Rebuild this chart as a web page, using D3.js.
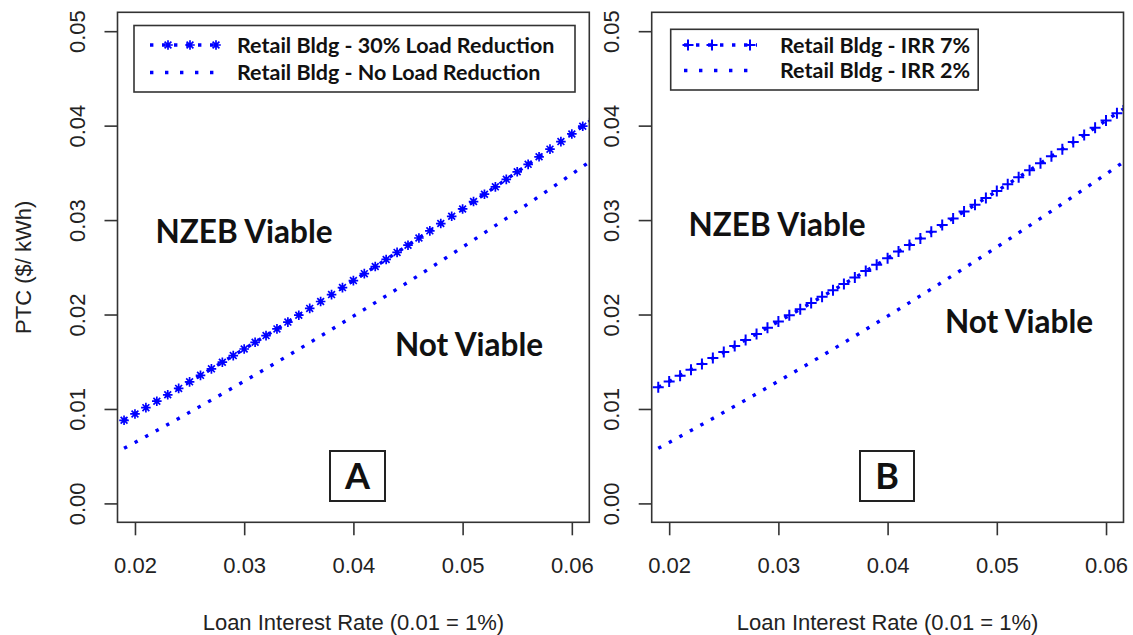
<!DOCTYPE html>
<html>
<head>
<meta charset="utf-8">
<script src="https://cdn.jsdelivr.net/npm/d3@7"></script>
<style>
  body { margin: 0; background: #fff; }
  svg { display: block; }
</style>
</head>
<body>
<div class="ptc-chart"></div>
<script>
// loan interest rate for each plotted point
const loanRate = [
  0.019, 0.020, 0.021, 0.022, 0.023, 0.024, 0.025, 0.026, 0.027, 0.028, 0.029,
  0.030, 0.031, 0.032, 0.033, 0.034, 0.035, 0.036, 0.037, 0.038, 0.039, 0.040,
  0.041, 0.042, 0.043, 0.044, 0.045, 0.046, 0.047, 0.048, 0.049, 0.050, 0.051,
  0.052, 0.053, 0.054, 0.055, 0.056, 0.057, 0.058, 0.059, 0.060, 0.061, 0.062,
];

// PTC ($/kWh)
const ptcLoad30 = [
  0.00880, 0.00947, 0.01014, 0.01082, 0.01150, 0.01218, 0.01287, 0.01356, 0.01425, 0.01495, 0.01565,
  0.01635, 0.01706, 0.01777, 0.01848, 0.01920, 0.01993, 0.02065, 0.02138, 0.02211, 0.02285, 0.02359,
  0.02433, 0.02508, 0.02583, 0.02658, 0.02734, 0.02810, 0.02886, 0.02963, 0.03040, 0.03118, 0.03196,
  0.03274, 0.03352, 0.03431, 0.03511, 0.03590, 0.03670, 0.03751, 0.03831, 0.03912, 0.03994, 0.04075,
];
// no load reduction and IRR 2% are the same base case
const ptcBase = [
  0.00584, 0.00646, 0.00709, 0.00772, 0.00836, 0.00900, 0.00965, 0.01030, 0.01095, 0.01161, 0.01227,
  0.01294, 0.01361, 0.01428, 0.01496, 0.01564, 0.01633, 0.01702, 0.01772, 0.01842, 0.01912, 0.01983,
  0.02054, 0.02126, 0.02198, 0.02270, 0.02343, 0.02416, 0.02490, 0.02564, 0.02639, 0.02714, 0.02789,
  0.02865, 0.02942, 0.03018, 0.03095, 0.03173, 0.03251, 0.03329, 0.03408, 0.03487, 0.03567, 0.03647,
];
const ptcIrr7 = [
  0.01230, 0.01291, 0.01353, 0.01415, 0.01477, 0.01540, 0.01603, 0.01667, 0.01731, 0.01795, 0.01860,
  0.01925, 0.01991, 0.02056, 0.02123, 0.02189, 0.02256, 0.02324, 0.02391, 0.02460, 0.02528, 0.02597,
  0.02666, 0.02736, 0.02806, 0.02876, 0.02947, 0.03018, 0.03090, 0.03162, 0.03234, 0.03307, 0.03380,
  0.03453, 0.03527, 0.03601, 0.03676, 0.03751, 0.03826, 0.03902, 0.03978, 0.04054, 0.04131, 0.04209,
];

const xTicks = [0.02, 0.03, 0.04, 0.05, 0.06];
const yTicks = [0.00, 0.01, 0.02, 0.03, 0.04, 0.05];
const xLimits = [0.02, 0.06];
const yLimits = [0.0, 0.05];

const xTitle = "Loan Interest Rate (0.01 = 1%)";
const yTitle = "PTC ($/ kWh)";

const panels = [
  {
    letter: "A",
    left: 117.5,
    series: [
      { name: "Retail Bldg - 30% Load Reduction", values: ptcLoad30, marker: "asterisk" },
      { name: "Retail Bldg - No Load Reduction", values: ptcBase, marker: null },
    ],
    legend: { x: 134, y: 25.5, w: 441, h: 66.5, rowY: [45, 72.5], textX: 237, lineX: [150, 220], markX: [168, 190, 216] },
    viable: [244, 243],
    notViable: [469, 356],
    box: [330, 451, 55, 50],
  },
  {
    letter: "B",
    left: 651.7,
    series: [
      { name: "Retail Bldg - IRR 7%", values: ptcIrr7, marker: "plus" },
      { name: "Retail Bldg - IRR 2%", values: ptcBase, marker: null },
    ],
    legend: { x: 670.7, y: 29.3, w: 307.5, h: 60.7, rowY: [45, 70.5], textX: 780, lineX: [684, 757], markX: [688, 712, 750] },
    viable: [777, 236],
    notViable: [1019, 333],
    box: [860, 451, 54, 50],
  },
];

const panelWidth = 471.8;
const plotTop = 12.3;
const plotBottom = 522.3;
const blue = "#0000ff";
const frame = "#333";
const axisFont = "'Liberation Sans', Arial, sans-serif";
const noteFont = "Lato, 'Open Sans', sans-serif";

// R style 4% padding around the limits
function padded(lim) {
  const pad = (lim[1] - lim[0]) * 0.04;
  return [lim[0] - pad, lim[1] + pad];
}

const svg = d3
  .select(".ptc-chart")
  .append("svg")
  .attr("width", 1133)
  .attr("height", 635);

function markerPath(type) {
  if (type === "asterisk") {
    const r = 4.8, c = 3.4;
    return `M${-r},0H${r}M0,${-r}V${r}M${-c},${-c}L${c},${c}M${-c},${c}L${c},${-c}`;
  }
  const r = 5.5;
  return `M${-r},0H${r}M0,${-r}V${r}`;
}

panels.forEach(function (p, i) {
  const x = d3
    .scaleLinear()
    .domain(padded(xLimits))
    .range([p.left, p.left + panelWidth]);
  const y = d3
    .scaleLinear()
    .domain(padded(yLimits))
    .range([plotBottom, plotTop]);

  const g = svg.append("g");

  svg
    .append("clipPath")
    .attr("id", "clip" + i)
    .append("rect")
    .attr("x", p.left)
    .attr("y", plotTop)
    .attr("width", panelWidth)
    .attr("height", plotBottom - plotTop);

  const plot = g.append("g").attr("clip-path", `url(#clip${i})`);

  const line = d3
    .line()
    .x((d, j) => x(loanRate[j]))
    .y((d) => y(d));

  p.series.forEach(function (s) {
    plot
      .append("path")
      .datum(s.values)
      .attr("d", line)
      .attr("fill", "none")
      .attr("stroke", blue)
      .attr("stroke-width", 3.4)
      .attr("stroke-dasharray", "3.4,8.6");

    if (s.marker) {
      plot
        .selectAll(null)
        .data(s.values)
        .enter()
        .append("path")
        .attr("d", markerPath(s.marker))
        .attr("transform", (d, j) => `translate(${x(loanRate[j])},${y(d)})`)
        .attr("fill", "none")
        .attr("stroke", blue)
        .attr("stroke-width", s.marker === "plus" ? 2 : 1.7);
    }
  });

  // frame
  g.append("rect")
    .attr("x", p.left)
    .attr("y", plotTop)
    .attr("width", panelWidth)
    .attr("height", plotBottom - plotTop)
    .attr("fill", "none")
    .attr("stroke", frame)
    .attr("stroke-width", 1.6);

  // axes
  const xAxis = g
    .append("g")
    .attr("transform", `translate(0,${plotBottom})`)
    .call(
      d3.axisBottom(x).tickValues(xTicks).tickSize(13).tickSizeOuter(0)
        .tickFormat(d3.format(".2f"))
    );
  xAxis.select(".domain").remove();
  xAxis.selectAll("line").attr("stroke", frame).attr("stroke-width", 1.6);
  xAxis
    .selectAll("text")
    .attr("y", 51)
    .attr("dy", null)
    .attr("fill", "#222")
    .style("font-family", axisFont)
    .style("font-size", "22px");

  const yAxis = g
    .append("g")
    .attr("transform", `translate(${p.left},0)`)
    .call(
      d3.axisLeft(y).tickValues(yTicks).tickSize(13).tickSizeOuter(0)
        .tickFormat(d3.format(".2f"))
    );
  yAxis.select(".domain").remove();
  yAxis.selectAll("line").attr("stroke", frame).attr("stroke-width", 1.6);
  yAxis
    .selectAll("text")
    .attr("x", null)
    .attr("dy", null)
    .attr("text-anchor", "middle")
    .attr("transform", "translate(-32.5,0) rotate(-90)")
    .attr("fill", "#222")
    .style("font-family", axisFont)
    .style("font-size", "22px");

  g.append("text")
    .attr("x", p.left + panelWidth / 2)
    .attr("y", 630)
    .attr("text-anchor", "middle")
    .attr("fill", "#222")
    .style("font-family", axisFont)
    .style("font-size", "22px")
    .text(xTitle);

  // legend
  const lg = p.legend;
  g.append("rect")
    .attr("x", lg.x)
    .attr("y", lg.y)
    .attr("width", lg.w)
    .attr("height", lg.h)
    .attr("fill", "#fff")
    .attr("stroke", frame)
    .attr("stroke-width", 1.6);

  p.series.forEach(function (s, k) {
    const ry = lg.rowY[k];
    g.append("line")
      .attr("x1", lg.lineX[0])
      .attr("x2", lg.lineX[1])
      .attr("y1", ry)
      .attr("y2", ry)
      .attr("stroke", blue)
      .attr("stroke-width", 3.4)
      .attr("stroke-dasharray", s.marker ? "3.4,8.6" : "3.4,11.6");
    if (s.marker) {
      lg.markX.forEach(function (mx) {
        g.append("path")
          .attr("d", markerPath(s.marker))
          .attr("transform", `translate(${mx},${ry})`)
          .attr("fill", "none")
          .attr("stroke", blue)
          .attr("stroke-width", s.marker === "plus" ? 2 : 1.7);
      });
    }
    g.append("text")
      .attr("x", lg.textX)
      .attr("y", ry + 7.5)
      .attr("fill", "#111")
      .style("font-family", noteFont)
      .style("font-weight", "bold")
      .style("font-size", "21.5px")
      .text(s.name);
  });

  // region notes
  g.append("text")
    .attr("x", p.viable[0])
    .attr("y", p.viable[1])
    .attr("text-anchor", "middle")
    .attr("fill", "#111")
    .style("font-family", noteFont)
    .style("font-weight", "bold")
    .style("font-size", "31.5px")
    .text("NZEB Viable");

  g.append("text")
    .attr("x", p.notViable[0])
    .attr("y", p.notViable[1])
    .attr("text-anchor", "middle")
    .attr("fill", "#111")
    .style("font-family", noteFont)
    .style("font-weight", "bold")
    .style("font-size", "31.5px")
    .text("Not Viable");

  g.append("rect")
    .attr("x", p.box[0])
    .attr("y", p.box[1])
    .attr("width", p.box[2])
    .attr("height", p.box[3])
    .attr("fill", "#fff")
    .attr("stroke", "#222")
    .attr("stroke-width", 2);

  g.append("text")
    .attr("x", p.box[0] + p.box[2] / 2)
    .attr("y", p.box[1] + p.box[3] / 2 + 13)
    .attr("text-anchor", "middle")
    .attr("fill", "#111")
    .style("font-family", noteFont)
    .style("font-weight", "bold")
    .style("font-size", "36px")
    .text(p.letter);
});

svg
  .append("text")
  .attr("transform", `translate(31,${(plotTop + plotBottom) / 2}) rotate(-90)`)
  .attr("text-anchor", "middle")
  .attr("fill", "#222")
  .style("font-family", axisFont)
  .style("font-size", "22px")
  .text(yTitle);
</script>
</body>
</html>
